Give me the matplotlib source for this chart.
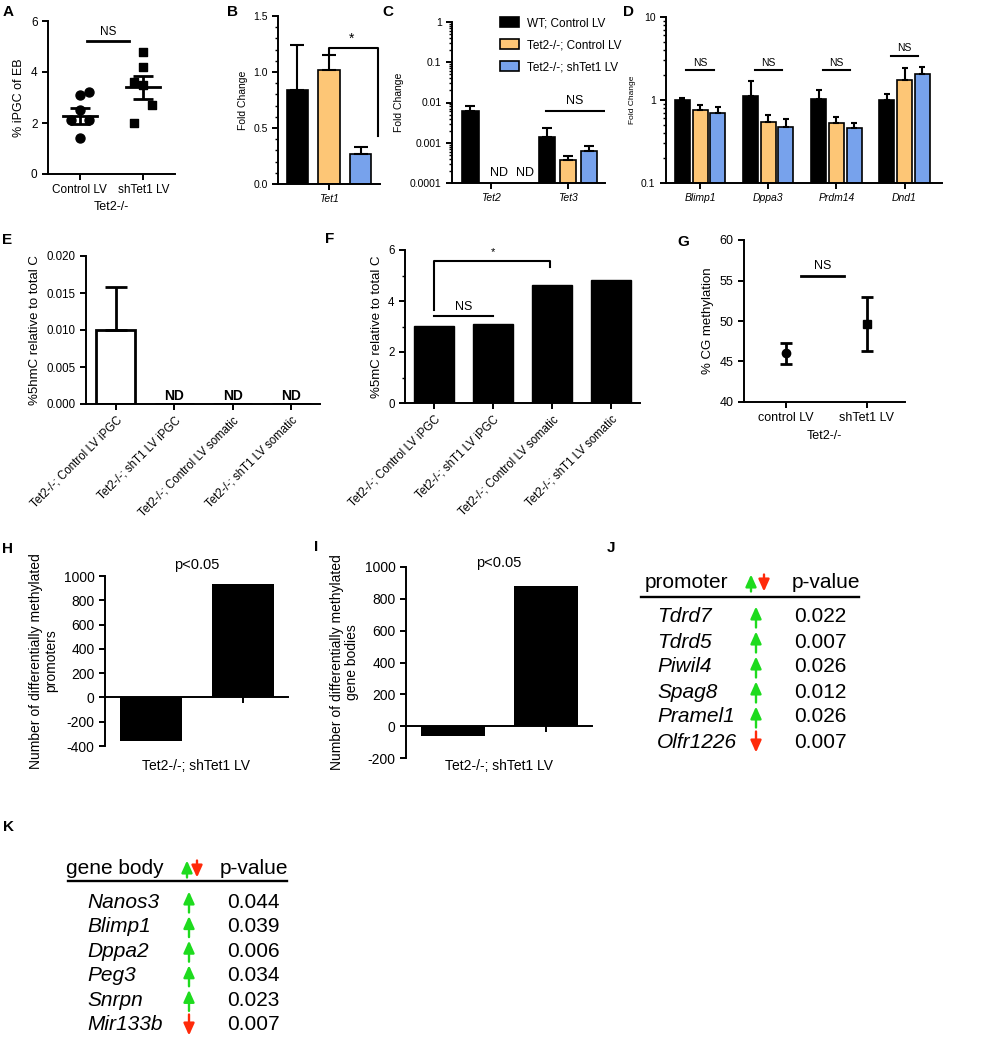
import numpy as np
import matplotlib
matplotlib.use("Agg")
import matplotlib.pyplot as plt
from matplotlib.ticker import MultipleLocator, FuncFormatter, LogLocator, NullFormatter

plt.rcParams['font.family'] = ['Liberation Sans', 'DejaVu Sans']
plt.rcParams['axes.unicode_minus'] = False
plt.rcParams['axes.linewidth'] = 1.4
plt.rcParams['xtick.major.width'] = 1.4
plt.rcParams['ytick.major.width'] = 1.4
plt.rcParams['xtick.minor.width'] = 1.0
plt.rcParams['ytick.minor.width'] = 1.0
plt.rcParams['xtick.major.size'] = 4
plt.rcParams['ytick.major.size'] = 4
plt.rcParams['ytick.minor.size'] = 2.5

ORANGE = '#FDC676'
BLUE = '#77A2EC'
GREEN = '#1EDB1E'
RED = '#FF2A0A'

# ---------------- data ----------------
# A: % iPGC of EB
a_groups = ['Control LV', 'shTet1 LV']
a_ctrl = [3.2, 3.1, 2.5, 2.1, 2.1, 1.4]
a_shtet1 = [4.8, 4.2, 3.6, 3.5, 2.7, 2.0]
a_mean = [2.27, 3.40]
a_sem = [0.31, 0.44]
a_ctrl_jitter = [1, 0, 0, -1, 1, 0]
a_sh_jitter = [0, 0, -1, 0, 1, -1]

# B: Tet1 fold change
b_gene = ['Tet1']
b_vals = [0.84, 1.02, 0.27]
b_err = [0.40, 0.13, 0.06]

# C: Tet2 / Tet3 fold change (nan = not detected)
c_genes = ['Tet2', 'Tet3']
c_wt = [0.0063, 0.00136]
c_wt_err = [0.0020, 0.0010]
c_ko = [np.nan, 0.00037]
c_ko_err = [np.nan, 0.00009]
c_sh = [np.nan, 0.00062]
c_sh_err = [np.nan, 0.00019]

# D: germ cell genes fold change
d_genes = ['Blimp1', 'Dppa3', 'Prdm14', 'Dnd1']
d_wt = [1.01, 1.13, 1.04, 1.01]
d_wt_err = [0.04, 0.55, 0.29, 0.16]
d_ko = [0.75, 0.54, 0.53, 1.73]
d_ko_err = [0.11, 0.12, 0.10, 0.70]
d_sh = [0.70, 0.47, 0.46, 2.07]
d_sh_err = [0.12, 0.12, 0.07, 0.43]
d_ns_level = [2.27, 2.27, 2.27, 3.42]

series_labels = ['WT; Control LV', 'Tet2-/-; Control LV', 'Tet2-/-; shTet1 LV']

# E, F: 5hmC / 5mC
ef_samples = ['Tet2-/-; Control LV iPGC', 'Tet2-/-; shT1 LV iPGC',
              'Tet2-/-; Control LV somatic', 'Tet2-/-; shT1 LV somatic']
e_5hmc = [0.010, np.nan, np.nan, np.nan]
e_5hmc_err = [0.0058, np.nan, np.nan, np.nan]
f_5mc = [3.02, 3.08, 4.64, 4.81]

# G: % CG methylation
g_groups = ['control LV', 'shTet1 LV']
g_mean = [46.0, 49.6]
g_low = [44.7, 46.3]
g_high = [47.3, 53.0]

# H, I: differentially methylated counts (hypo, hyper)
hi_label = 'Tet2-/-; shTet1 LV'
h_promoters = [-360, 935]
i_genebodies = [-63, 880]

# J, K: tables
j_genes = ['Tdrd7', 'Tdrd5', 'Piwil4', 'Spag8', 'Pramel1', 'Olfr1226']
j_dir = ['up', 'up', 'up', 'up', 'up', 'down']
j_pval = [0.022, 0.007, 0.026, 0.012, 0.026, 0.007]
k_genes = ['Nanos3', 'Blimp1', 'Dppa2', 'Peg3', 'Snrpn', 'Mir133b']
k_dir = ['up', 'up', 'up', 'up', 'up', 'down']
k_pval = [0.044, 0.039, 0.006, 0.034, 0.023, 0.007]

# ---------------- figure ----------------
W, H = 981, 1050
fig = plt.figure(figsize=(W / 100, H / 100), dpi=100)


def add_ax(x0, x1, y0, y1):
    # pixel box (from top-left) -> figure fraction
    ax = fig.add_axes([x0 / W, 1 - y1 / H, (x1 - x0) / W, (y1 - y0) / H])
    ax.spines['top'].set_visible(False)
    ax.spines['right'].set_visible(False)
    return ax


def up_errbar(ax, x, y, e, cap, lw=1.5):
    e = np.asarray(e, dtype=float)
    ax.errorbar(x, y, yerr=[np.zeros_like(e), e], fmt='none', ecolor='k',
                elinewidth=lw, capsize=cap, capthick=lw, zorder=3)


# ---- A ----
ax = add_ax(48, 175, 21, 174)
ax.scatter(np.array(a_ctrl_jitter) * 0.14, a_ctrl, s=42, marker='o', color='k', zorder=3)
ax.scatter(1 + np.array(a_sh_jitter) * 0.14, a_shtet1, s=34, marker='s', color='k', zorder=3)
for i, (m, s) in enumerate(zip(a_mean, a_sem)):
    ax.plot([i - 0.27, i + 0.27], [m, m], color='k', lw=2)
    ax.errorbar(i, m, yerr=s, fmt='none', ecolor='k', elinewidth=2, capsize=7, capthick=2)
ax.plot([0.11, 0.78], [5.2, 5.2], color='k', lw=2)
ax.text(0.45, 5.35, 'NS', ha='center', va='bottom', fontsize=8.5)
ax.set_xlim(-0.5, 1.5)
ax.set_ylim(0, 6)
ax.set_xticks([0, 1])
ax.set_xticklabels(a_groups)
ax.set_yticks([0, 2, 4, 6])
ax.tick_params(labelsize=8.5)
ax.set_xlabel('Tet2-/-', fontsize=9, labelpad=3)
ax.set_ylabel('% iPGC of EB', fontsize=9)

# ---- B ----
ax = add_ax(278, 380, 16, 184)
xb = np.arange(3)
ax.bar(xb, b_vals, width=0.66, color=['k', ORANGE, BLUE], edgecolor='k', lw=1.2)
up_errbar(ax, xb, b_vals, b_err, cap=5)
ax.plot([1, 1, 2.55, 2.55], [1.16, 1.21, 1.21, 0.43], color='k', lw=1.5)
ax.text(1.7, 1.23, '*', ha='center', va='bottom', fontsize=10)
ax.set_xlim(-0.6, 2.6)
ax.set_ylim(0, 1.5)
ax.set_xticks([1])
ax.set_xticklabels(b_gene, fontstyle='italic')
ax.set_yticks([0, 0.5, 1.0, 1.5])
ax.yaxis.set_major_formatter(FuncFormatter(lambda v, _: f'{v:.1f}'))
ax.yaxis.set_minor_locator(MultipleLocator(0.1))
ax.tick_params(labelsize=7.5)
ax.set_ylabel('Fold Change', fontsize=7.5)

# ---- C ----
ax = add_ax(452, 605, 22, 183)
ax.set_yscale('log')
xc = np.arange(len(c_genes))
offs = [-0.27, 0.0, 0.27]
cols = ['k', ORANGE, BLUE]
handles = []
for k, (v, e) in enumerate(zip([c_wt, c_ko, c_sh], [c_wt_err, c_ko_err, c_sh_err])):
    v = np.array(v)
    hdl = ax.bar(xc + offs[k], np.nan_to_num(v, nan=0.0), width=0.21, color=cols[k],
                 edgecolor='k', lw=1.2, label=series_labels[k])
    handles.append(hdl)
    up_errbar(ax, xc + offs[k], v, e, cap=3.5)
for xn in [0.10, 0.44]:
    ax.text(xn, 1.25e-4, 'ND', ha='center', va='bottom', fontsize=9)
ax.plot([0.71, 1.47], [0.006, 0.006], color='k', lw=1.5)
ax.text(1.09, 0.0078, 'NS', ha='center', va='bottom', fontsize=9)
ax.set_xlim(-0.51, 1.48)
ax.set_ylim(1e-4, 1)
ax.set_xticks(xc)
ax.set_xticklabels(c_genes, fontstyle='italic')
ax.yaxis.set_major_locator(LogLocator(base=10))
ax.yaxis.set_major_formatter(FuncFormatter(lambda v, _: f'{v:g}'))
ax.yaxis.set_minor_locator(LogLocator(base=10, subs=np.arange(2, 10)))
ax.yaxis.set_minor_formatter(NullFormatter())
ax.tick_params(labelsize=7.5)
ax.set_ylabel('Fold Change', fontsize=7.5)
ax.legend(handles, series_labels, loc='upper left', bbox_to_anchor=(500 / W, 1 - 17 / H),
          bbox_transform=fig.transFigure, frameon=False, fontsize=8.5, handlelength=1.6,
          handleheight=0.85, handletextpad=0.7, labelspacing=0.85, borderpad=0, borderaxespad=0)

# ---- D ----
ax = add_ax(666, 942, 17, 183)
ax.set_yscale('log')
xd = np.arange(len(d_genes))
offs = [-0.26, 0.0, 0.26]
for k, (v, e) in enumerate(zip([d_wt, d_ko, d_sh], [d_wt_err, d_ko_err, d_sh_err])):
    ax.bar(xd + offs[k], v, width=0.22, color=cols[k], edgecolor='k', lw=1.2)
    up_errbar(ax, xd + offs[k], v, e, cap=2.5)
for x, lvl in zip(xd, d_ns_level):
    ax.plot([x - 0.2, x + 0.2], [lvl, lvl], color='k', lw=1.5)
    ax.text(x, lvl * 1.08, 'NS', ha='center', va='bottom', fontsize=7.5)
ax.set_xlim(-0.5, 3.55)
ax.set_ylim(0.1, 10)
ax.set_xticks(xd)
ax.set_xticklabels(d_genes, fontstyle='italic')
ax.yaxis.set_major_locator(LogLocator(base=10))
ax.yaxis.set_major_formatter(FuncFormatter(lambda v, _: f'{v:g}'))
ax.yaxis.set_minor_locator(LogLocator(base=10, subs=np.arange(2, 10)))
ax.yaxis.set_minor_formatter(NullFormatter())
ax.tick_params(labelsize=7.5)
ax.set_ylabel('Fold Change', fontsize=6)

# ---- E ----
ax = add_ax(86, 320, 256, 404)
xe = np.arange(len(ef_samples))
ax.bar(xe, np.nan_to_num(e_5hmc, nan=0.0), width=0.67, color='white', edgecolor='k', lw=2)
up_errbar(ax, xe, e_5hmc, e_5hmc_err, cap=8, lw=2)
for x, v in zip(xe, e_5hmc):
    if np.isnan(v):
        ax.text(x, 0.0002, 'ND', ha='center', va='bottom', fontsize=10, fontweight='bold')
ax.set_xlim(-0.51, 3.49)
ax.set_ylim(0, 0.02)
ax.set_yticks(np.arange(0, 0.0201, 0.005))
ax.yaxis.set_major_formatter(FuncFormatter(lambda v, _: f'{v:.3f}'))
ax.set_xticks(xe)
ax.set_xticklabels(ef_samples, rotation=45, ha='right', rotation_mode='anchor')
ax.tick_params(labelsize=8.3)
ax.set_ylabel('%5hmC relative to total C', fontsize=9.5)

# ---- F ----
ax = add_ax(405, 640, 250, 403)
ax.bar(xe, f_5mc, width=0.69, color='k', edgecolor='k')
ax.plot([0, 0, 1.97, 1.97], [3.65, 5.58, 5.58, 5.35], color='k', lw=1.5)
ax.text(1.0, 5.72, '*', ha='center', va='bottom', fontsize=8)
ax.plot([0, 1.0], [3.42, 3.42], color='k', lw=1.5)
ax.text(0.5, 3.52, 'NS', ha='center', va='bottom', fontsize=9)
ax.set_xlim(-0.49, 3.49)
ax.set_ylim(0, 6)
ax.yaxis.set_major_locator(MultipleLocator(2))
ax.yaxis.set_minor_locator(MultipleLocator(1))
ax.set_xticks(xe)
ax.set_xticklabels(ef_samples, rotation=45, ha='right', rotation_mode='anchor')
ax.tick_params(labelsize=8.3)
ax.set_ylabel('%5mC relative to total C', fontsize=9.5)

# ---- G ----
ax = add_ax(744, 905, 240, 402)
markers = ['o', 's']
for i in range(2):
    ax.errorbar(i, g_mean[i], yerr=[[g_mean[i] - g_low[i]], [g_high[i] - g_mean[i]]],
                fmt=markers[i], color='k', ms=6, elinewidth=2, capsize=4, capthick=2)
ax.plot([0.19, 0.72], [55.5, 55.5], color='k', lw=2)
ax.text(0.45, 56.1, 'NS', ha='center', va='bottom', fontsize=9)
ax.set_xlim(-0.52, 1.47)
ax.set_ylim(40, 60)
ax.set_yticks(np.arange(40, 61, 5))
ax.set_xticks([0, 1])
ax.set_xticklabels(g_groups)
ax.tick_params(labelsize=9)
ax.set_xlabel('Tet2-/-', fontsize=9)
ax.set_ylabel('% CG methylation', fontsize=9.5)


# ---- H, I ----
def count_panel(box, vals, ylo, ylabel, ptext_y):
    ax = add_ax(*box)
    x = np.arange(2)
    ax.bar(x, vals, width=0.68, color='k')
    ax.spines['bottom'].set_position(('data', 0))
    ax.set_xlim(-0.5, 1.49)
    ax.set_ylim(ylo, 1000)
    ax.set_yticks(np.arange(ylo, 1001, 200))
    ax.set_xticks(x)
    ax.set_xticklabels([])
    ax.tick_params(labelsize=10)
    ax.set_ylabel(ylabel, fontsize=10, linespacing=1.15)
    ax.text(0.5, ptext_y, 'p<0.05', transform=ax.transAxes, ha='center', va='center', fontsize=10.5)
    bottom_px = box[3] - box[2]
    ax.text(0.5, -(766 - box[3]) / bottom_px, hi_label, transform=ax.transAxes,
            ha='center', va='center', fontsize=10)
    return ax


count_panel((105, 288, 576, 746), h_promoters, -400,
            'Number of differentially methylated\npromoters', 1.065)
count_panel((406, 592, 567, 758), i_genebodies, -200,
            'Number of differentially methylated\ngene bodies', 1.02)

# ---- overlay: panel letters and tables ----
ov = fig.add_axes([0, 0, 1, 1], zorder=10)
ov.set_xlim(0, W)
ov.set_ylim(H, 0)
ov.axis('off')
ov.patch.set_alpha(0)

letters = ['A', 'B', 'C', 'D', 'E', 'F', 'G', 'H', 'I', 'J', 'K']
letter_xy = [(3, 5), (227, 5), (382, 5), (623, 5), (2, 233), (325, 232),
             (677, 235), (2, 542), (314, 540), (607, 541), (3, 820)]
for lab, (lx, ly) in zip(letters, letter_xy):
    ov.text(lx, ly, lab, fontsize=11, fontweight='bold', ha='left', va='top')


def draw_arrow(x, yc, up, height=20):
    color = GREEN if up else RED
    if up:
        tail, head = yc + height / 2, yc - height / 2
    else:
        tail, head = yc - height / 2, yc + height / 2
    ov.annotate('', xy=(x, head), xytext=(x, tail),
                arrowprops=dict(arrowstyle='-|>,head_length=0.6,head_width=0.27',
                                color=color, lw=1.7, shrinkA=0, shrinkB=0, mutation_scale=12))


def draw_table(title, genes, dirs, pvals, x_title, x_gene, x_arrow, x_arrow_hdr, x_p_hdr, x_p,
               y_hdr, y_line, line_x, y_row0, pitch):
    fs = 15
    ov.text(x_title, y_hdr, title, fontsize=fs, va='center', ha='left')
    draw_arrow(x_arrow_hdr[0], y_hdr + 1, True, 17)
    draw_arrow(x_arrow_hdr[1], y_hdr + 1, False, 17)
    ov.text(x_p_hdr, y_hdr, 'p-value', fontsize=fs, va='center', ha='left')
    ov.plot(line_x, [y_line, y_line], color='k', lw=1.7)
    for i, (g, d, p) in enumerate(zip(genes, dirs, pvals)):
        y = y_row0 + pitch * i
        ov.text(x_gene, y, g, fontsize=fs, style='italic', va='center', ha='left')
        draw_arrow(x_arrow, y, d == 'up', 21)
        ov.text(x_p, y, f'{p:.3f}', fontsize=fs, va='center', ha='left')


draw_table('promoter', j_genes, j_dir, j_pval, 645, 657, 756, (751, 764), 792, 794,
           582, 597, [641, 859], 617, 25)
draw_table('gene body', k_genes, k_dir, k_pval, 66, 87, 189, (187, 197), 220, 227,
           868, 881, [68, 287], 902, 24.6)

fig.savefig('out.png', dpi=100)
